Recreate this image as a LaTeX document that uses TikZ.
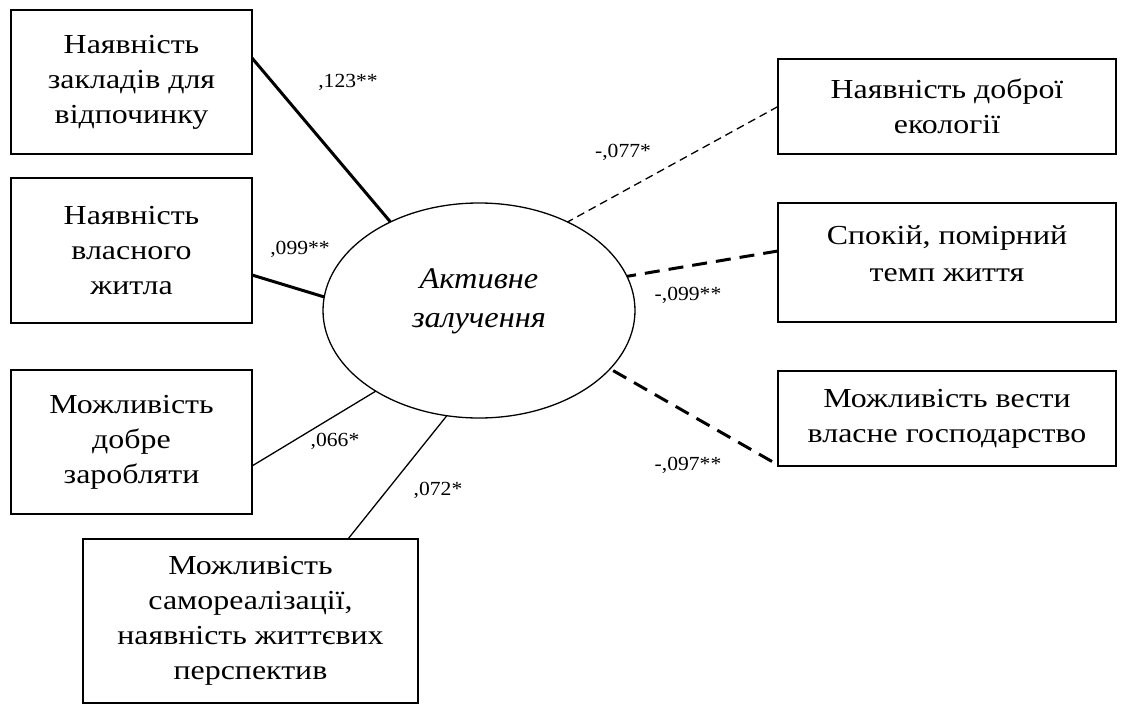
\documentclass[tikz,border=0pt]{standalone}
\usepackage{fontspec}
\setmainfont{Liberation Serif}
\newfontfamily\boxfont[FakeStretch=1.16]{Liberation Serif}
\newfontfamily\lblfont[FakeStretch=1.08]{Liberation Serif}
\newfontfamily\ovalfont[FakeStretch=1.08]{Liberation Serif}
\usetikzlibrary{shapes.geometric}
\begin{document}
\begin{tikzpicture}[x=1pt,y=-1pt,
  box/.style={draw, line width=1.3pt, inner sep=0pt, outer sep=0pt, align=center,
    font=\boxfont\fontsize{27.5}{35}\selectfont},
  boxtext/.style={inner sep=0pt, align=center, font=\boxfont\fontsize{27.5}{37}\selectfont},
  oval/.style={draw, ellipse, line width=1.3pt, inner sep=0pt, outer sep=0pt},
  ovaltext/.style={inner sep=0pt, align=center, font=\ovalfont\fontsize{30}{39}\selectfont\itshape},
  lbl/.style={inner sep=0pt, font=\lblfont\fontsize{20}{24}\selectfont},
  strong/.style={line width=3pt},
  weak/.style={line width=1.3pt},
  strongdash/.style={line width=3pt, dash pattern=on 15pt off 9pt},
  weakdash/.style={line width=1.3pt, dash pattern=on 8pt off 5pt}
]
\useasboundingbox (0,0) rectangle (1122,706);

% central ellipse
\node[oval, minimum width=312, minimum height=215] (el) at (479,310.5) {};
\node[ovaltext] (elt) at (479,301) {Активне\\залучення};

% left boxes
\node[box, minimum width=241, minimum height=144] (b1) at (131.5,82) {Наявність\\закладів для\\відпочинку};
\node[box, minimum width=241, minimum height=145] (b2) at (131.5,250.5) {Наявність\\власного\\житла};
\node[box, minimum width=241, minimum height=144] (b3) at (131.5,442) {Можливість\\добре\\заробляти};
\node[box, minimum width=335, minimum height=164] (b4) at (250.5,621) {Можливість\\самореалізації,\\наявність життєвих\\перспектив};

% right boxes
\node[box, minimum width=338, minimum height=95] (b5) at (947,106.5) {Наявність доброї\\екології};
\node[box, minimum width=338, minimum height=119] (b6) at (947,262.5) {};
\node[boxtext] (t6) at (947,254) {Спокій, помірний\\темп життя};
\node[box, minimum width=338, minimum height=95] (b7) at (947,418.5) {Можливість вести\\власне господарство};

% connectors
\draw[strong] ([yshift=24pt]b1.east) -- (el.135);
\draw[strong] ([yshift=-24.5pt]b2.east) -- (el.175.6);
\draw[weak] ([yshift=-24pt]b3.east) -- (el.218);
\draw[weak] ([xshift=97.5pt]b4.north) -- (el.253);
\draw[weakdash] (b5.west) -- (el.45);
\draw[strongdash] ([yshift=11.5pt]b6.west) -- (el.13.3);
\draw[strongdash] ([yshift=-43pt,xshift=-6pt]b7.west) -- (el.-24.3);

% coefficients
\node[lbl] (c1) at (348,82) {,123**};
\node[lbl] (c2) at (300,249) {,099**};
\node[lbl] (c3) at (335,441) {,066*};
\node[lbl] (c4) at (438,490) {,072*};
\node[lbl] (c5) at (623,152) {-,077*};
\node[lbl] (c6) at (688,295) {-,099**};
\node[lbl] (c7) at (688,465) {-,097**};
\end{tikzpicture}
\end{document}
